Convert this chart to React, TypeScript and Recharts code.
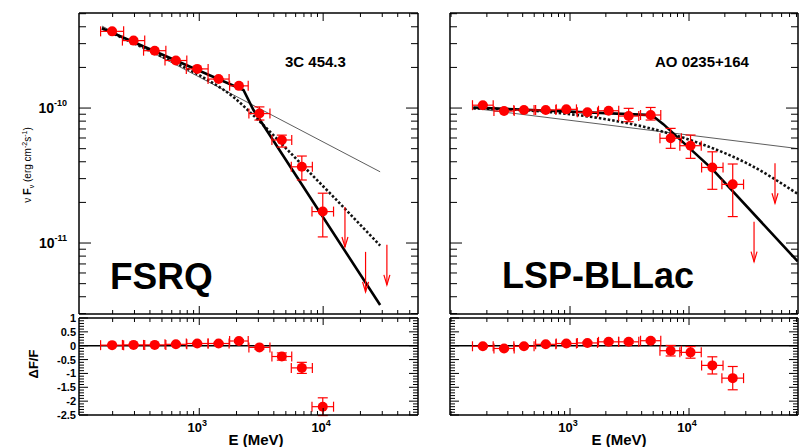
import React from 'react';
import { ComposedChart, Scatter, Line, XAxis, YAxis, ErrorBar, ReferenceLine } from 'recharts';

const FONT = '"Liberation Sans", Arial, Helvetica, sans-serif';
const RED = '#ff0000';

// ---- FSRQ, 3C 454.3 (energy in MeV, nuFnu in erg cm-2 s-1)
const fsrqE = [198, 295, 437, 648, 963, 1432, 2090, 3060, 4640, 6730, 9930];
const fsrqF = [3.7e-10, 3.16e-10, 2.66e-10, 2.25e-10, 1.95e-10, 1.64e-10, 1.46e-10, 9.1e-11, 5.8e-11, 3.67e-11, 1.71e-11];
const fsrqBin = [0.093, 0.09, 0.09, 0.088, 0.088, 0.085, 0.075, 0.085, 0.08, 0.085, 0.087]; // half bin width, dex
const fsrqLo = [null, null, null, null, null, null, null, 8.15e-11, 5.14e-11, 2.93e-11, 1.11e-11];
const fsrqHi = [null, null, null, null, null, null, null, 1.02e-10, 6.3e-11, 4.41e-11, 2.34e-11];
const fsrqUlE = [15000, 22000, 32700];
const fsrqUlF = [1.85e-11, 8.6e-12, 9.7e-12];
const fsrqPlE = [164, 28840];
const fsrqPlF = [4.05e-10, 3.37e-11];
const fsrqBplE = [164, 2275, 2740, 28840];
const fsrqBplF = [3.9e-10, 1.36e-10, 9.66e-11, 3.47e-12];
const fsrqLpE = [164, 403, 1000, 1880, 2720, 6530, 12050, 28840];
const fsrqLpF = [3.9e-10, 2.64e-10, 1.75e-10, 1.21e-10, 8.87e-11, 3.92e-11, 2.21e-11, 9.57e-12];
const fsrqRes = [0.02, 0.03, 0.03, 0.05, 0.08, 0.08, 0.17, -0.06, -0.39, -0.8, -2.2];
const fsrqResErr = [0.03, 0.03, 0.03, 0.03, 0.03, 0.04, 0.05, 0.06, 0.13, 0.2, 0.32];

// ---- LSP-BLLac, AO 0235+164
const lspE = [185, 279, 410, 625, 931, 1400, 2110, 3110, 4760, 7010, 10300, 15700, 23300];
const lspF = [1.05e-10, 9.5e-11, 9.67e-11, 9.67e-11, 9.78e-11, 9.3e-11, 9.55e-11, 8.72e-11, 8.88e-11, 5.97e-11, 5.26e-11, 3.63e-11, 2.72e-11];
const lspBin = [0.087, 0.085, 0.085, 0.085, 0.085, 0.085, 0.085, 0.085, 0.085, 0.09, 0.09, 0.09, 0.091];
const lspLo = [null, null, null, null, null, null, null, 7.92e-11, 8.15e-11, 5.03e-11, 4.24e-11, 2.5e-11, 1.57e-11];
const lspHi = [null, null, null, null, null, null, null, 9.95e-11, 1.01e-10, 7.07e-11, 6.31e-11, 4.74e-11, 3.85e-11];
const lspUlE = [35200, 52800];
const lspUlF = [1.44e-11, 3.9e-11];
const lspPlE = [154, 82000];
const lspPlF = [9.95e-11, 5.01e-11];
const lspBplE = [154, 4850, 6080, 15700, 82000];
const lspBplF = [1.01e-10, 8.87e-11, 7.6e-11, 3.53e-11, 7.3e-12];
const lspLpE = [154, 679, 1790, 4700, 12350, 32600, 82000];
const lspLpF = [9.95e-11, 9.33e-11, 8.4e-11, 7.08e-11, 5.47e-11, 3.79e-11, 2.31e-11];
const lspRes = [-0.02, -0.1, -0.02, 0.05, 0.08, 0.1, 0.14, 0.14, 0.18, -0.18, -0.24, -0.71, -1.17];
const lspResErr = [0.04, 0.04, 0.04, 0.04, 0.04, 0.04, 0.04, 0.05, 0.05, 0.19, 0.21, 0.31, 0.42];

// ---- axes
const fsrqXDomain = [107, 58300];
const lspXDomain = [98, 82400];
const fluxDomain = [2.98e-12, 5.06e-10];
const resDomain = [-2.5, 1];
const mantissas = [1, 2, 3, 4, 5, 6, 7, 8, 9];
const energyDecades = [100, 1000, 10000];
const fluxDecades = [1e-12, 1e-11, 1e-10];
const energyMajor = [1000, 10000];
const fluxMajor = [1e-11, 1e-10];
const resMajor = [1, 0.5, 0, -0.5, -1, -1.5, -2, -2.5];

const logTicks = (decades: number[], dom: number[]) =>
  decades.flatMap((d) => mantissas.map((m) => +(m * d).toPrecision(3))).filter((t) => t >= dom[0] && t <= dom[1]);
const resTicks = Array.from({ length: 36 }, (_, i) => +(-2.5 + i * 0.1).toFixed(1));

const same = (a: number, list: number[]) =>
  list.some((m) => m === a || Math.abs(m - a) <= 1e-6 * Math.max(Math.abs(m), Math.abs(a)));

type Side = 'bottom' | 'top' | 'left' | 'right';
const tickRenderer =
  (side: Side, major: number[], big: number, small: number, label?: (v: number, x: number, y: number) => React.ReactNode) =>
  (p: any) => {
    const { x, y } = p;
    const v = p.payload.value;
    const isMajor = same(v, major);
    const len = isMajor ? big : small;
    let x2 = x;
    let y2 = y;
    if (side === 'bottom') y2 = y - len;
    else if (side === 'top') y2 = y + len;
    else if (side === 'left') x2 = x + len;
    else x2 = x - len;
    return (
      <g>
        <line x1={x} y1={y} x2={x2} y2={y2} stroke="#000" strokeWidth={1} />
        {label && isMajor ? label(v, x, y) : null}
      </g>
    );
  };

const powX = (v: number, x: number, y: number) => (
  <text x={x - 2} y={y + 17} textAnchor="middle" fontFamily={FONT} fontWeight="bold" fontSize={13} fill="#000">
    10<tspan dy={-6} fontSize={9}>{Math.round(Math.log10(v))}</tspan>
  </text>
);
const powY = (v: number, x: number, y: number) => (
  <text x={x - 12} y={y + 5} textAnchor="end" fontFamily={FONT} fontWeight="bold" fontSize={14} fill="#000">
    10<tspan dy={-7} fontSize={9}>{Math.round(Math.log10(v))}</tspan>
  </text>
);
const numY = (v: number, x: number, y: number) => (
  <text x={x - 3} y={y + 4} textAnchor="end" fontFamily={FONT} fontWeight="bold" fontSize={11} fill="#000">
    {String(v)}
  </text>
);

const frame = { stroke: '#000', strokeWidth: 1.5 };

const Dot = (p: any) => <circle cx={p.cx} cy={p.cy} r={5} fill={RED} />;
const Arrow = (p: any) => {
  const { cx, cy } = p;
  const tip = cy + 40;
  return (
    <g stroke={RED} strokeWidth={1.2} fill="none">
      <line x1={cx} y1={cy} x2={cx} y2={tip} />
      <polyline points={`${cx - 3},${tip - 10} ${cx},${tip} ${cx + 3},${tip - 10}`} />
    </g>
  );
};

const zip = (es: number[], fs: number[]) => es.map((e, i) => ({ e, f: fs[i] }));
const points = (es: number[], fs: number[], bins: number[], lo: (number | null)[], hi: (number | null)[]) =>
  es.map((e, i) => {
    const f = fs[i];
    return {
      e,
      f,
      ex: [e - e / Math.pow(10, bins[i]), e * Math.pow(10, bins[i]) - e],
      ey: [f - (lo[i] ?? f), (hi[i] ?? f) - f],
    };
  });
const residuals = (es: number[], rs: number[], bins: number[], errs: number[]) =>
  es.map((e, i) => ({ e, f: rs[i], ex: [e - e / Math.pow(10, bins[i]), e * Math.pow(10, bins[i]) - e], ey: errs[i] }));

type Margin = { top: number; right: number; bottom: number; left: number };

// axes are 1px thick so that Recharts renders them; margins are reduced by 1
const axisSet = (xDomain: number[], xt: number[], xMajor: number[], xBig: number, xSmall: number, xLabel: any,
  yScale: 'log' | 'linear', yDomain: number[], yt: number[], yMajor: number[], yBig: number, ySmall: number, yLabel: any) => [
  <XAxis key="xb" xAxisId="b" dataKey="e" type="number" scale="log" domain={xDomain} allowDataOverflow ticks={xt} interval={0}
    orientation="bottom" height={1} tickSize={0} tickMargin={0} axisLine={frame} tickLine={false}
    tick={tickRenderer('bottom', xMajor, xBig, xSmall, xLabel)} />,
  <XAxis key="xt" xAxisId="t" dataKey="e" type="number" scale="log" domain={xDomain} allowDataOverflow ticks={xt} interval={0}
    orientation="top" height={1} tickSize={0} tickMargin={0} axisLine={frame} tickLine={false}
    tick={tickRenderer('top', xMajor, xBig, xSmall)} />,
  <YAxis key="yl" yAxisId="l" dataKey="f" type="number" scale={yScale} domain={yDomain} allowDataOverflow ticks={yt} interval={0}
    orientation="left" width={1} tickSize={0} tickMargin={0} axisLine={frame} tickLine={false}
    tick={tickRenderer('left', yMajor, yBig, ySmall, yLabel)} />,
  <YAxis key="yr" yAxisId="r" dataKey="f" type="number" scale={yScale} domain={yDomain} allowDataOverflow ticks={yt} interval={0}
    orientation="right" width={1} tickSize={0} tickMargin={0} axisLine={frame} tickLine={false}
    tick={tickRenderer('right', yMajor, yBig, ySmall)} />,
];

type MainProps = {
  width: number;
  margin: Margin;
  xDomain: number[];
  pts: any[];
  uls: any[];
  pl: any[];
  bpl: any[];
  lp: any[];
  labels: boolean;
};

function MainPanel({ width, margin, xDomain, pts, uls, pl, bpl, lp, labels }: MainProps) {
  const xt = logTicks(energyDecades, xDomain);
  const yt = logTicks(fluxDecades, fluxDomain);
  return (
    <ComposedChart width={width} height={316} margin={margin}>
      {axisSet(xDomain, xt, energyMajor, 8, 4, undefined, 'log', fluxDomain, yt, fluxMajor, 12, 7, labels ? powY : undefined)}
      <Line xAxisId="b" yAxisId="l" data={pl} dataKey="f" type="linear" stroke="#333" strokeWidth={0.8} dot={false} isAnimationActive={false} />
      <Line xAxisId="b" yAxisId="l" data={lp} dataKey="f" type="monotone" stroke="#111" strokeWidth={2.6} strokeDasharray="2.5 2" dot={false} isAnimationActive={false} />
      <Line xAxisId="b" yAxisId="l" data={bpl} dataKey="f" type="linear" stroke="#000" strokeWidth={2.6} dot={false} isAnimationActive={false} />
      <Scatter xAxisId="b" yAxisId="l" data={pts} dataKey="f" shape={Dot} isAnimationActive={false}>
        <ErrorBar dataKey="ex" direction="x" width={5} stroke={RED} strokeWidth={1.2} isAnimationActive={false} />
        <ErrorBar dataKey="ey" direction="y" width={5} stroke={RED} strokeWidth={1.2} isAnimationActive={false} />
      </Scatter>
      <Scatter xAxisId="b" yAxisId="l" data={uls} dataKey="f" shape={Arrow} isAnimationActive={false} />
    </ComposedChart>
  );
}

type ResProps = {
  width: number;
  margin: Margin;
  xDomain: number[];
  pts: any[];
  labels: boolean;
};

function ResPanel({ width, margin, xDomain, pts, labels }: ResProps) {
  const xt = logTicks(energyDecades, xDomain);
  return (
    <ComposedChart width={width} height={147} margin={margin}>
      {axisSet(xDomain, xt, energyMajor, 7, 4, powX, 'linear', resDomain, resTicks, resMajor, 9, 5, labels ? numY : undefined)}
      <ReferenceLine xAxisId="b" yAxisId="l" y={0} stroke="#000" strokeWidth={1.5} />
      <Scatter xAxisId="b" yAxisId="l" data={pts} dataKey="f" shape={Dot} isAnimationActive={false}>
        <ErrorBar dataKey="ex" direction="x" width={5} stroke={RED} strokeWidth={1.2} isAnimationActive={false} />
        <ErrorBar dataKey="ey" direction="y" width={5} stroke={RED} strokeWidth={1.2} isAnimationActive={false} />
      </Scatter>
    </ComposedChart>
  );
}

export default function App() {
  const leftM = { top: 12, right: 11, bottom: 1, left: 78 };
  const rightM = { top: 12, right: 5, bottom: 1, left: 19 };
  const leftR = { top: 17, right: 11, bottom: 31, left: 78 };
  const rightR = { top: 17, right: 5, bottom: 31, left: 19 };
  const abs = (left: number, top: number): React.CSSProperties => ({ position: 'absolute', left, top });
  return (
    <div style={{ position: 'absolute', left: 0, top: 0, width: 804, height: 447, background: '#fff', overflow: 'hidden' }}>
      <div style={abs(0, 0)}>
        <MainPanel width={430} margin={leftM} xDomain={fsrqXDomain}
          pts={points(fsrqE, fsrqF, fsrqBin, fsrqLo, fsrqHi)} uls={zip(fsrqUlE, fsrqUlF)}
          pl={zip(fsrqPlE, fsrqPlF)} bpl={zip(fsrqBplE, fsrqBplF)} lp={zip(fsrqLpE, fsrqLpF)} labels />
      </div>
      <div style={abs(430, 0)}>
        <MainPanel width={374} margin={rightM} xDomain={lspXDomain}
          pts={points(lspE, lspF, lspBin, lspLo, lspHi)} uls={zip(lspUlE, lspUlF)}
          pl={zip(lspPlE, lspPlF)} bpl={zip(lspBplE, lspBplF)} lp={zip(lspLpE, lspLpF)} labels={false} />
      </div>
      <div style={abs(0, 300)}>
        <ResPanel width={430} margin={leftR} xDomain={fsrqXDomain} pts={residuals(fsrqE, fsrqRes, fsrqBin, fsrqResErr)} labels />
      </div>
      <div style={abs(430, 300)}>
        <ResPanel width={374} margin={rightR} xDomain={lspXDomain} pts={residuals(lspE, lspRes, lspBin, lspResErr)} labels={false} />
      </div>
      <svg width={804} height={447} style={{ position: 'absolute', left: 0, top: 0, pointerEvents: 'none' }} fontFamily={FONT}>
        <text transform="rotate(-90 31 165)" x={31} y={165} textAnchor="middle" fontSize={10} fill="#000">
          <tspan>ν </tspan>
          <tspan fontWeight="bold" fontSize={11}>F</tspan>
          <tspan dy={3} fontSize={7}>ν</tspan>
          <tspan dy={-3}> (erg cm</tspan>
          <tspan dy={-4} fontSize={7}>-2</tspan>
          <tspan dy={4}>s</tspan>
          <tspan dy={-4} fontSize={7}>-1</tspan>
          <tspan dy={4}>)</tspan>
        </text>
        <text transform="rotate(-90 38 364)" x={38} y={364} textAnchor="middle" fontSize={13} fontWeight="bold" fill="#000">ΔF/F</text>
        <text x={285} y={67} fontSize={15} fontWeight="bold" fill="#000">3C 454.3</text>
        <text x={655} y={67} fontSize={15} fontWeight="bold" fill="#000">AO 0235+164</text>
        <text x={110} y={289} fontSize={37} fontWeight="bold" fill="#000">FSRQ</text>
        <text x={502} y={288} fontSize={36} fontWeight="bold" fill="#000">LSP-BLLac</text>
        <text x={256} y={445} textAnchor="middle" fontSize={15} fontWeight="bold" fill="#000">E (MeV)</text>
        <text x={619} y={445} textAnchor="middle" fontSize={15} fontWeight="bold" fill="#000">E (MeV)</text>
      </svg>
    </div>
  );
}
